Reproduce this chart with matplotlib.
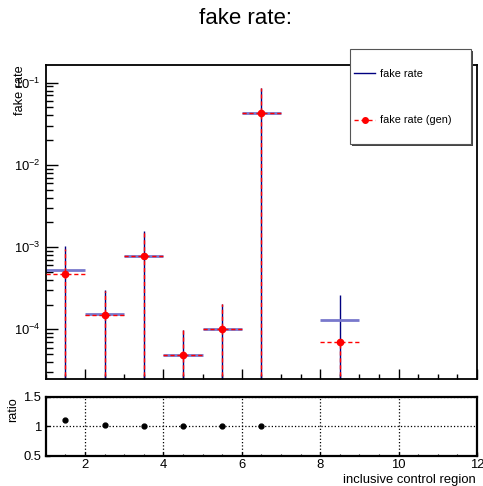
import matplotlib

matplotlib.use("Agg")
import matplotlib.pyplot as plt
import numpy as np
from matplotlib.patches import Rectangle
from matplotlib.lines import Line2D


# bin centres of the inclusive control regions
bin_centers = [1.5, 2.5, 3.5, 4.5, 5.5, 6.5, 8.5]
bin_half_width = 0.5

# nominal fake rate and its uncertainty (error bars reach down to zero)
fake_rate = [5.2e-4, 1.52e-4, 7.9e-4, 4.9e-5, 1.02e-4, 4.32e-2, 1.31e-4]
fake_rate_err = [5.0e-4, 1.52e-4, 7.9e-4, 4.9e-5, 1.02e-4, 4.32e-2, 1.31e-4]

# fake rate from generator truth
fake_rate_gen = [4.7e-4, 1.48e-4, 7.9e-4, 4.9e-5, 1.02e-4, 4.32e-2, 7.0e-5]
fake_rate_gen_err_lo = [4.7e-4, 1.48e-4, 7.9e-4, 4.9e-5, 1.02e-4, 4.32e-2, 7.0e-5]
fake_rate_gen_err_hi = [4.7e-4, 1.48e-4, 7.9e-4, 4.9e-5, 1.01e-4, 4.25e-2, 0.0]

ratio_ticks = [0.5, 1.0, 1.5]
ratio_tick_labels = ["0.5", "1", "1.5"]
x_ticks = [2, 4, 6, 8, 10, 12]

plt.rcParams["font.family"] = ["Liberation Sans", "DejaVu Sans"]
plt.rcParams["mathtext.default"] = "regular"

W, H = 483, 486
BLUE = "#7878cc"
NAVY = "#000080"
DASH = (0, (3, 2))

fig = plt.figure(figsize=(W / 100, H / 100), dpi=100)
ax = fig.add_axes([45.8 / W, 1 - 379 / H, (477 - 45.8) / W, (379 - 65) / H])
rax = fig.add_axes([45.8 / W, 1 - 456 / H, (477 - 45.8) / W, (456 - 396.7) / H])

x = np.asarray(bin_centers)
blue = np.asarray(fake_rate)
blue_err = np.asarray(fake_rate_err)
red = np.asarray(fake_rate_gen)
red_lo = np.asarray(fake_rate_gen_err_lo)
red_hi = np.asarray(fake_rate_gen_err_hi)

# nominal: light horizontal bars with navy vertical error bars
ax.vlines(x, np.clip(blue - blue_err, 1e-12, None), blue + blue_err,
          color=NAVY, linewidth=1.0, zorder=2)
ax.hlines(blue, x - bin_half_width, x + bin_half_width,
          color=BLUE, linewidth=2.0, zorder=2)

# gen: red dashed error bars with dots
ax.vlines(x, np.clip(red - red_lo, 1e-12, None), red + red_hi,
          color="red", linewidth=1.0, linestyles=[DASH], zorder=3)
ax.hlines(red, x - bin_half_width, x + bin_half_width,
          color="red", linewidth=1.0, linestyles=[DASH], zorder=3)
ax.plot(x, red, "o", color="red", markersize=4.5, zorder=4)

ax.set_yscale("log")
ax.set_xlim(1, 12)
ax.set_ylim(2.49e-5, 0.164)
ax.set_xticks(x_ticks)
ax.set_xticks(np.arange(1, 12.01, 0.5), minor=True)
ax.tick_params(axis="x", which="both", direction="in", labelbottom=False, top=False)
ax.tick_params(axis="x", which="major", length=7.2, width=1.0)
ax.tick_params(axis="x", which="minor", length=3.6, width=1.0)
ax.tick_params(axis="y", which="both", direction="in", right=False, labelsize=9.4, pad=3.5)
ax.tick_params(axis="y", which="major", length=8.6, width=1.0)
ax.tick_params(axis="y", which="minor", length=5.0, width=1.0)
for spine in ax.spines.values():
    spine.set_linewidth(1.3)

# ratio panel
ratio = blue / red
rax.plot(x, ratio, "o", color="black", markersize=3.5, zorder=3)
rax.set_xlim(1, 12)
rax.set_ylim(0.5, 1.5)
rax.set_yticks(ratio_ticks, ratio_tick_labels)
rax.set_xticks(x_ticks)
rax.set_xticks(np.arange(1, 12.01, 0.5), minor=True)
rax.tick_params(which="both", direction="in", labelsize=9.4, top=False, right=False)
rax.tick_params(which="major", length=3, width=1.0)
rax.tick_params(which="minor", length=1.5, width=0.8)
rax.tick_params(axis="x", pad=2)
rax.tick_params(axis="y", pad=3.5)
rax.grid(True, which="major", linestyle=":", color="black", linewidth=0.9)
for spine in rax.spines.values():
    spine.set_linewidth(1.6)

# titles and labels
fig.text(245 / W, 1 - 18 / H, "fake rate:", ha="center", va="center", fontsize=16)
fig.text(20 / W, 1 - 65 / H, "fake rate", rotation=90, ha="center", va="top", fontsize=9.2)
fig.text(13.5 / W, 1 - 397 / H, "ratio", rotation=90, ha="center", va="top", fontsize=9.2)
fig.text(476 / W, 1 - 480 / H, "inclusive control region", ha="right", va="center", fontsize=9.4)

# legend box with shadow, drawn in figure pixels
lx0, lx1, ly0, ly1 = 350, 471, 49.3, 143.7
fig.patches.append(Rectangle((lx0 + 2, H - ly1 - 2), lx1 - lx0, ly1 - ly0,
                             transform=None, facecolor="#444444", edgecolor="none"))
fig.patches.append(Rectangle((lx0, H - ly1), lx1 - lx0, ly1 - ly0,
                             transform=None, facecolor="white", edgecolor="#555555",
                             linewidth=0.8))
fig.lines.append(Line2D([354, 375], [H - 73, H - 73], transform=None,
                        color=NAVY, linewidth=1.0))
fig.text(380 / W, 1 - 74 / H, "fake rate", ha="left", va="center", fontsize=7.8)
fig.lines.append(Line2D([354, 375], [H - 120, H - 120], transform=None,
                        color="red", linewidth=1.0, linestyle=DASH))
fig.lines.append(Line2D([365], [H - 120], transform=None, marker="o",
                        color="red", markersize=4))
fig.text(380 / W, 1 - 120 / H, "fake rate (gen)", ha="left", va="center", fontsize=7.8)

fig.savefig("out.png", dpi=100)
